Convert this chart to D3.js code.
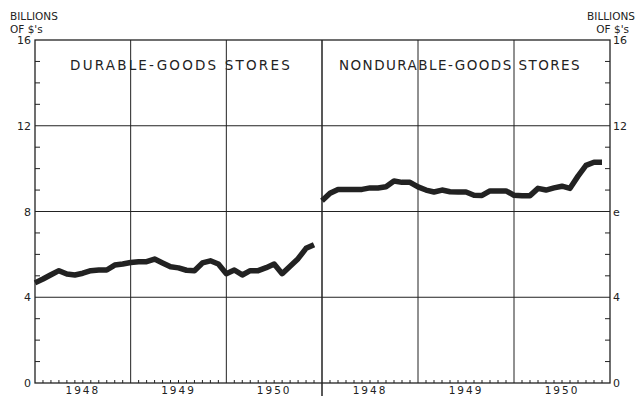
<!DOCTYPE html>
<html>
<head>
<meta charset="utf-8">
<script src="https://cdn.jsdelivr.net/npm/d3@7"></script>
<style>
  body { margin: 0; background: #fff; }
  svg { display: block; }
  text { font-family: "DejaVu Sans", sans-serif; fill: #222; }
</style>
</head>
<body>
<div id="chart"></div>
<script>
// Monthly retail sales, billions of dollars, Jan 1948 - Dec 1950
const years = ['1948', '1949', '1950'];
const durable = [4.67, 4.85, 5.05, 5.24, 5.08, 5.04, 5.12, 5.24, 5.27, 5.27, 5.5, 5.55,
                 5.62, 5.66, 5.66, 5.78, 5.6, 5.42, 5.37, 5.26, 5.24, 5.6, 5.7, 5.55,
                 5.1, 5.27, 5.04, 5.24, 5.24, 5.38, 5.55, 5.1, 5.45, 5.8, 6.28, 6.45];
const nondurable = [8.5, 8.85, 9.03, 9.03, 9.03, 9.03, 9.1, 9.1, 9.15, 9.42, 9.36, 9.36,
                    9.15, 9.0, 8.91, 9.0, 8.92, 8.91, 8.91, 8.76, 8.75, 8.96, 8.96, 8.96,
                    8.76, 8.74, 8.74, 9.08, 9.0, 9.1, 9.18, 9.08, 9.65, 10.15, 10.3, 10.3];
const panelTitles = ['DURABLE-GOODS STORES', 'NONDURABLE-GOODS STORES'];
const yMajor = [0, 4, 8, 12, 16];
const yRightLabels = ['0', '4', 'e', '12', '16'];

const width = 635, height = 396;
const frame = { left: 35, mid: 322, right: 610, top: 40, bottom: 383 };
const ink = '#222';

const svg = d3.select('#chart').append('svg')
    .attr('width', width)
    .attr('height', height);

const y = d3.scaleLinear().domain([0, 16]).range([frame.bottom, frame.top]);
const xL = d3.scaleLinear().domain([0, 36]).range([frame.left, frame.mid]);
const xR = d3.scaleLinear().domain([0, 36]).range([frame.mid, frame.right]);

// Horizontal grid lines
svg.append('g').selectAll('line')
    .data(yMajor.filter(d => d > 0 && d < 16))
    .join('line')
    .attr('x1', frame.left).attr('x2', frame.right)
    .attr('y1', d => y(d)).attr('y2', d => y(d))
    .attr('stroke', ink).attr('stroke-width', 1);

// Year grid lines
[xL, xR].forEach(x => {
    svg.append('g').selectAll('line')
        .data([12, 24])
        .join('line')
        .attr('x1', d => x(d)).attr('x2', d => x(d))
        .attr('y1', frame.top).attr('y2', frame.bottom)
        .attr('stroke', ink).attr('stroke-width', 1);
});

// Frame
svg.append('rect')
    .attr('x', frame.left).attr('y', frame.top)
    .attr('width', frame.right - frame.left).attr('height', frame.bottom - frame.top)
    .attr('fill', 'none').attr('stroke', ink).attr('stroke-width', 1.3);

// Panel divider (runs down past the axis)
svg.append('line')
    .attr('x1', frame.mid).attr('x2', frame.mid)
    .attr('y1', frame.top).attr('y2', height)
    .attr('stroke', ink).attr('stroke-width', 1.5);

// Month ticks on x axis
[xL, xR].forEach(x => {
    svg.append('g').selectAll('line')
        .data(d3.range(1, 36).filter(d => d % 12 !== 0))
        .join('line')
        .attr('x1', d => x(d)).attr('x2', d => x(d))
        .attr('y1', frame.bottom).attr('y2', frame.bottom - 3)
        .attr('stroke', ink).attr('stroke-width', 1);
});

// Minor y ticks (inward)
const yMinor = d3.range(1, 16).filter(d => d % 4 !== 0);
svg.append('g').selectAll('line')
    .data(yMinor)
    .join('line')
    .attr('x1', frame.left).attr('x2', frame.left + 5)
    .attr('y1', d => y(d)).attr('y2', d => y(d))
    .attr('stroke', ink).attr('stroke-width', 1);
svg.append('g').selectAll('line')
    .data(yMinor)
    .join('line')
    .attr('x1', frame.right).attr('x2', frame.right - 5)
    .attr('y1', d => y(d)).attr('y2', d => y(d))
    .attr('stroke', ink).attr('stroke-width', 1);

// Y labels
svg.append('g').selectAll('text')
    .data(yMajor)
    .join('text')
    .attr('x', frame.left - 4)
    .attr('y', d => y(d) + 4)
    .attr('text-anchor', 'end')
    .style('font-size', '11px')
    .text(d => d);
svg.append('g').selectAll('text')
    .data(yMajor)
    .join('text')
    .attr('x', frame.right + 3)
    .attr('y', d => y(d) + 4)
    .attr('text-anchor', 'start')
    .style('font-size', '11px')
    .text((d, i) => yRightLabels[i]);

// Unit labels
svg.append('text').attr('x', 10).attr('y', 20)
    .style('font-size', '10.5px').text('BILLIONS');
svg.append('text').attr('x', 10).attr('y', 33)
    .style('font-size', '10.5px').text("OF $'s");
svg.append('text').attr('x', 635).attr('y', 20).attr('text-anchor', 'end')
    .style('font-size', '10.5px').text('BILLIONS');
svg.append('text').attr('x', 629).attr('y', 33).attr('text-anchor', 'end')
    .style('font-size', '10.5px').text("OF $'s");

// Panel titles
svg.append('text').attr('x', 181).attr('y', 70)
    .attr('text-anchor', 'middle')
    .style('font-size', '13.5px').style('letter-spacing', '2.2px')
    .text(panelTitles[0]);
svg.append('text').attr('x', 460).attr('y', 70)
    .attr('text-anchor', 'middle')
    .style('font-size', '13.5px').style('letter-spacing', '1.45px')
    .text(panelTitles[1]);

// Year labels, tucked just under the axis
[xL, xR].forEach(x => {
    svg.append('g').selectAll('text')
        .data(years)
        .join('text')
        .attr('x', (d, i) => x(i * 12 + 6))
        .attr('y', 394)
        .attr('text-anchor', 'middle')
        .style('font-size', '10.5px').style('letter-spacing', '2px')
        .text(d => d);
});

// Series lines
const line = x => d3.line()
    .x((d, i) => x(i))
    .y(d => y(d));

svg.append('path')
    .datum(durable)
    .attr('fill', 'none')
    .attr('stroke', ink)
    .attr('stroke-width', 5.5)
    .attr('stroke-linejoin', 'round')
    .attr('d', line(xL));

svg.append('path')
    .datum(nondurable)
    .attr('fill', 'none')
    .attr('stroke', ink)
    .attr('stroke-width', 5.5)
    .attr('stroke-linejoin', 'round')
    .attr('d', line(xR));
</script>
</body>
</html>
